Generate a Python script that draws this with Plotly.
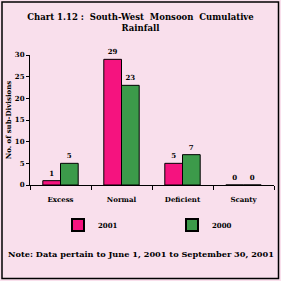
import plotly.graph_objects as go

categories = ["Excess", "Normal", "Deficient", "Scanty"]
values_2001 = [1, 29, 5, 0]
values_2000 = [5, 23, 7, 0]
y_ticks = [0, 5, 10, 15, 20, 25, 30]

FONT = "DejaVu Serif"
W, H = 281, 281
L, R, T, B = 30, 7, 55, 96
pw, ph = W - L - R, H - T - B

fig = go.Figure()
fig.add_trace(go.Bar(
    name="<b>2001</b>", x=categories, y=values_2001,
    marker=dict(color="#f5137f", line=dict(color="black", width=1)),
    text=["<b>%d</b>" % v for v in values_2001], textposition="outside",
    textfont=dict(family=FONT, size=7, color="black"), cliponaxis=False,
    legend="legend",
))
fig.add_trace(go.Bar(
    name="<b>2000</b>", x=categories, y=values_2000,
    marker=dict(color="#3c9a4a", line=dict(color="black", width=1)),
    text=["<b>%d</b>" % v for v in values_2000], textposition="outside",
    textfont=dict(family=FONT, size=7, color="black"), cliponaxis=False,
    legend="legend2",
))

legend_common = dict(
    orientation="h", xanchor="left", yanchor="middle", itemwidth=30,
    bgcolor="rgba(0,0,0,0)", font=dict(family=FONT, size=7, color="black"),
    itemsizing="constant",
)

fig.update_layout(
    width=W, height=H,
    margin=dict(l=L, r=R, t=T, b=B),
    paper_bgcolor="#f9dfec", plot_bgcolor="#f9dfec",
    barmode="group", bargap=0.42, bargroupgap=0,
    font=dict(family=FONT, size=7, color="black"),
    title=dict(
        text="<b>Chart 1.12 :  South-West  Monsoon  Cumulative<br>Rainfall</b>",
        x=0.5, xanchor="center", yref="container", y=1 - 20 / H, yanchor="top",
        font=dict(family=FONT, size=8.5, color="black"),
    ),
    xaxis=dict(
        type="category", showgrid=False, showline=True, linecolor="black", linewidth=1,
        ticks="outside", tickson="boundaries", ticklen=4, tickcolor="black",
        tickfont=dict(family=FONT, size=7, color="black"),
        ticklabelstandoff=8,
        tickvals=categories, ticktext=["<b>%s</b>" % c for c in categories],
        range=[-0.5, 3.5],
    ),
    yaxis=dict(
        range=[0, 30], tickvals=y_ticks, ticktext=["<b>%d</b>" % v for v in y_ticks],
        showgrid=False, zeroline=False,
        showline=True, linecolor="black", linewidth=1,
        ticks="outside", ticklen=3, tickcolor="black",
        tickfont=dict(family=FONT, size=7, color="black"),
        title=dict(text="<b>No. of sub-Divisions</b>", standoff=2,
                   font=dict(family=FONT, size=7, color="black")),
    ),
    legend=dict(x=(58 - L) / pw, y=(185 - 225) / ph, **legend_common),
    legend2=dict(x=(172 - L) / pw, y=(185 - 225) / ph, **legend_common),
    showlegend=True,
)

fig.add_annotation(
    text="<b>Note: Data pertain to June 1, 2001 to September 30, 2001</b>",
    xref="paper", yref="paper", x=(140.5 - L) / pw, y=(185 - 254) / ph,
    xanchor="center", yanchor="middle", showarrow=False,
    font=dict(family=FONT, size=8.2, color="black"),
)

fig.add_shape(
    type="rect", xref="paper", yref="paper",
    x0=(2 - L) / pw, x1=(278.5 - L) / pw,
    y0=(185 - 278.5) / ph, y1=(185 - 2) / ph,
    line=dict(color="black", width=1.5), fillcolor="rgba(0,0,0,0)", layer="above",
)

fig.write_html("out.html")
